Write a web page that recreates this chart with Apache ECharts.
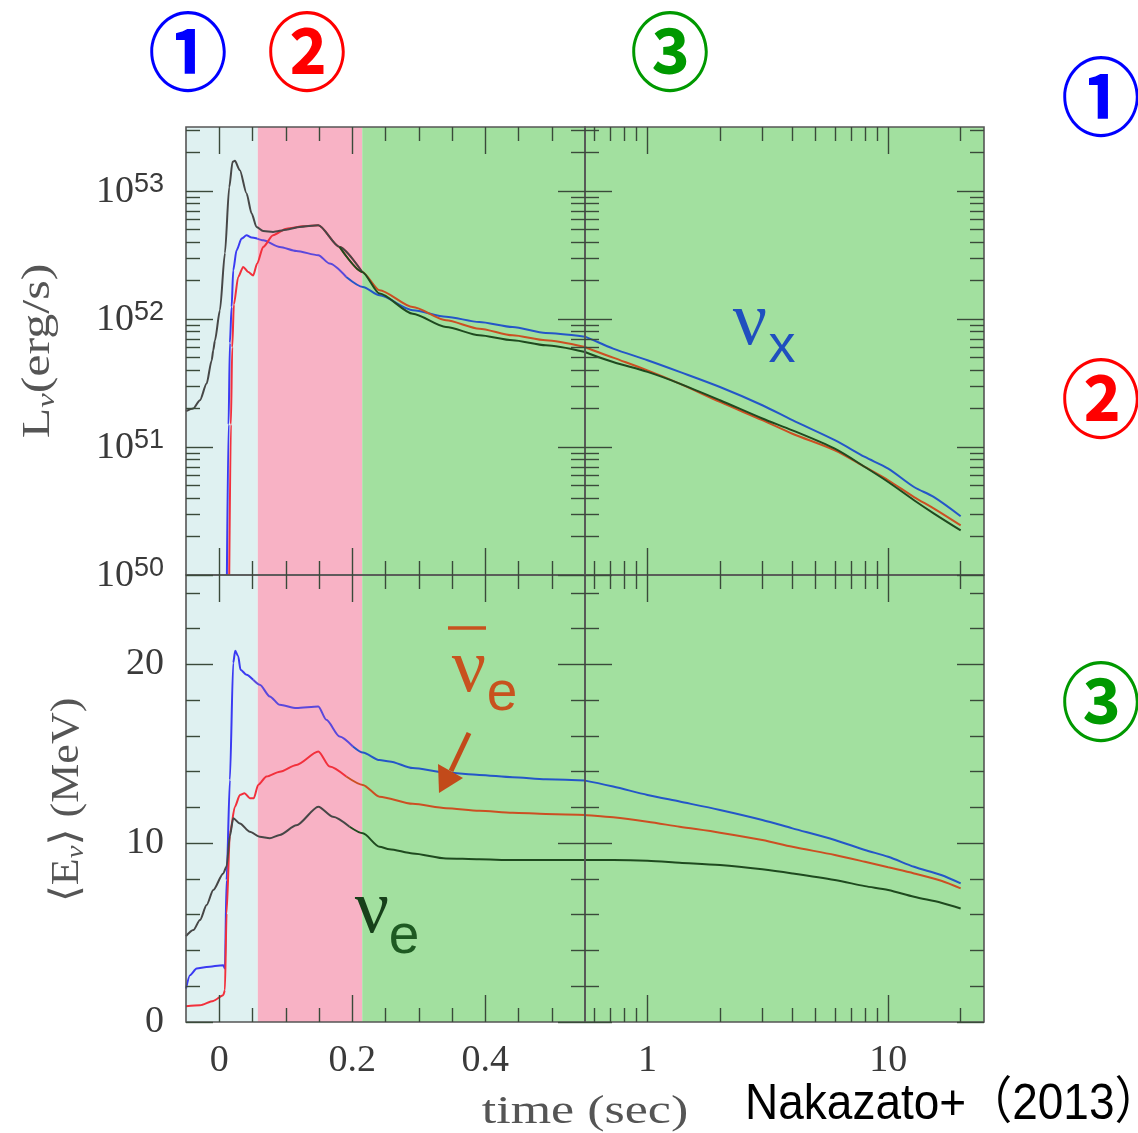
<!DOCTYPE html>
<html><head><meta charset="utf-8">
<script src="https://cdn.jsdelivr.net/npm/echarts@6/dist/echarts.min.js"></script>
<style>html,body{margin:0;padding:0;background:#fff}#c{width:1138px;height:1133px}</style>
</head><body><div id="c"></div>
<script>
// ---------------- data ----------------
// tick labels
const tickTimeEarly = [0, 0.2, 0.4];
const tickTimeLate = [1, 10];
const tickLum = [1e50, 1e51, 1e52, 1e53];
const tickEnergy = [0, 10, 20];
// phase boundaries (s): ① neutronization burst, ② accretion, ③ cooling
const phaseEdges = [-0.05, 0.058, 0.215, 0.55];
const timeRangeLate = [0.55, 25];

// Luminosity L (erg/s)
const tL_nue = [-0.05,-0.039,-0.029,-0.019,-0.0114,-0.009,-0.0065,0.001,0.0085,0.015,0.020,0.0235,0.031,0.041,0.0486,0.056,0.066,0.081,0.101,0.121,0.149,0.181,0.215,0.241,0.291,0.341,0.391,0.441,0.491,0.55,0.72,1,1.36,2,3,4,6,8,10,12.8,15.5,20];
const L_nue = [1.91e51,2.0e51,2.32e51,3.13e51,4.75e51,5.7e51,6.8e51,1.17e52,3.26e52,1.07e53,1.69e53,1.72e53,1.45e53,9.6e52,6.7e52,5.24e52,4.87e52,4.79e52,4.99e52,5.24e52,5.4e52,3.65e52,2.33e52,1.58e52,1.1e52,8.66e51,7.46e51,6.82e51,6.23e51,5.52e51,4.61e51,3.86e51,3.13e51,2.32e51,1.67e51,1.35e51,9.7e50,6.98e50,5.33e50,3.84e50,3.02e50,2.23e50];

const tL_nueb = [0.015,0.0175,0.0195,0.022,0.0285,0.036,0.0435,0.051,0.057,0.066,0.081,0.101,0.126,0.149,0.181,0.215,0.241,0.291,0.341,0.391,0.441,0.491,0.55,0.72,1,1.36,2,3,4,6,8,10,12.8,15.5,20];
const L_nueb = [1.0e50,1.5e51,6.0e51,1.3e52,2.13e52,2.55e52,2.33e52,2.19e52,2.71e52,3.65e52,4.51e52,5.08e52,5.3e52,5.4e52,3.65e52,2.33e52,1.68e52,1.24e52,9.78e51,8.41e51,7.46e51,6.82e51,6.04e51,4.99e51,3.97e51,3.13e51,2.25e51,1.62e51,1.27e51,9.43e50,6.98e50,5.5e50,4.06e50,3.3e50,2.44e50];

const tL_nux = [0.0115,0.014,0.016,0.0186,0.021,0.026,0.0336,0.041,0.0486,0.057,0.066,0.091,0.116,0.149,0.166,0.191,0.216,0.241,0.291,0.341,0.391,0.441,0.491,0.55,0.72,1,1.36,2,3,4,6,8,10,12.8,15.5,20];
const L_nux = [1.0e50,1.5e51,6.5e51,1.24e52,2.4e52,3.44e52,4.25e52,4.51e52,4.33e52,4.25e52,4.12e52,3.65e52,3.4e52,3.15e52,2.71e52,2.13e52,1.78e52,1.53e52,1.17e52,1.04e52,9.48e51,8.66e51,7.78e51,7.28e51,5.87e51,4.76e51,3.86e51,2.94e51,2.12e51,1.62e51,1.13e51,8.36e50,6.78e50,4.87e50,4.06e50,2.88e50];

// Mean energy <E> (MeV)
const tE_nue = [-0.05,-0.039,-0.029,-0.019,-0.009,0.006,0.011,0.016,0.021,0.031,0.046,0.061,0.076,0.091,0.116,0.149,0.171,0.196,0.216,0.241,0.256,0.291,0.341,0.391,0.441,0.491,0.55,0.72,1,1.36,2,3,4,6,8,10,12.8,16.6,20];
const E_nue = [4.8,5.14,5.7,6.54,7.38,8.31,8.7,10.4,11.4,11.1,10.64,10.36,10.27,10.46,11.0,12.04,11.48,10.92,10.55,9.8,9.66,9.43,9.15,9.1,9.06,9.06,9.06,9.06,9.02,8.91,8.78,8.54,8.31,7.94,7.6,7.38,7.0,6.67,6.35];

const tE_nueb = [-0.05,-0.029,-0.009,0.006,0.0085,0.011,0.016,0.0235,0.031,0.038,0.046,0.052,0.0585,0.071,0.091,0.116,0.149,0.166,0.191,0.216,0.241,0.291,0.341,0.391,0.441,0.491,0.55,0.72,1,1.36,2,3,4,6,8,10,12.8,16.6,20];
const E_nueb = [0.88,0.94,1.18,1.5,1.78,6.07,10.55,12.04,12.7,12.8,12.52,12.52,13.26,13.73,14.0,14.38,15.13,14.29,13.73,13.26,12.6,12.2,11.96,11.82,11.71,11.64,11.58,11.45,11.2,10.92,10.59,10.18,9.8,9.34,8.96,8.65,8.31,7.9,7.47];

const tE_nux = [-0.05,-0.044,-0.034,-0.019,0.006,0.0085,0.011,0.016,0.021,0.024,0.0285,0.032,0.041,0.051,0.061,0.076,0.091,0.116,0.149,0.161,0.181,0.201,0.216,0.241,0.256,0.291,0.341,0.391,0.441,0.491,0.55,0.72,1,1.36,2,3,4,6,8,10,12.8,16.6,20];
const E_nux = [1.87,2.62,2.99,3.08,3.18,2.99,7.94,13.54,20.08,20.77,20.45,19.7,19.42,19.14,18.86,18.21,17.74,17.56,17.65,16.9,15.97,15.41,15.07,14.65,14.57,14.2,13.95,13.82,13.69,13.58,13.5,13.17,12.7,12.33,11.86,11.3,10.83,10.18,9.62,9.24,8.68,8.22,7.75];

// ---------------- styling ----------------
const C_CYAN = '#dff1f1', C_PINK = '#f8b2c5', C_GREEN = '#a2e09f';
const tickColor = '#3a4a3a';
const serif = "'Liberation Serif','DejaVu Serif',serif";
const sans = "'Liberation Sans','DejaVu Sans',sans-serif";
const labelColor = '#3a3a3a';
const titleColor = '#555';

const grids = [
  {left:186, top:127, width:399, height:448},
  {left:585, top:127, width:399, height:448},
  {left:186, top:575, width:399, height:447},
  {left:585, top:575, width:399, height:447}
].map(g => Object.assign(g, {show:true, borderColor:'#555', borderWidth:1.6,
  backgroundColor:'transparent', z:10, containLabel:false, outerBoundsMode:'none'}));

const minorEarly = [0.05,0.1,0.15,0.25,0.3,0.35,0.45,0.5];
const minorLate = [0.6,0.7,0.8,0.9,2,3,4,5,6,7,8,9,20];
const minorLum = [];
[50,51,52].forEach(d => { for (let k=2;k<=9;k++) minorLum.push(k*Math.pow(10,d)); });
minorLum.push(2e53, 3e53);
const minorEnergy = [2,4,6,8,12,14,16,18,22,24];

const xAxes = [], yAxes = [];
function ax(type, grid, min, max, position, values, len, label) {
  const a = {type, gridIndex:grid, min, max, position, z:10, silent:true,
    axisLine:{show:false, onZero:false}, splitLine:{show:false},
    axisTick:{show:true, inside:true, length:len, customValues:values,
      lineStyle:{color:tickColor, width:1.4}},
    axisLabel: label ? Object.assign({show:true}, label) : {show:false},
    axisPointer:{show:false}};
  if (type === 'log') a.logBase = 10;
  return a;
}
const xSpec = [
  {type:'value', min:phaseEdges[0], max:phaseEdges[3], major:tickTimeEarly, minor:minorEarly},
  {type:'log', min:timeRangeLate[0], max:timeRangeLate[1], major:tickTimeLate, minor:minorLate},
  {type:'value', min:phaseEdges[0], max:phaseEdges[3], major:tickTimeEarly, minor:minorEarly},
  {type:'log', min:timeRangeLate[0], max:timeRangeLate[1], major:tickTimeLate, minor:minorLate}
];
const ySpec = [
  {type:'log', min:1e50, max:Math.pow(10,53.5), major:tickLum, minor:minorLum},
  {type:'log', min:1e50, max:Math.pow(10,53.5), major:tickLum, minor:minorLum},
  {type:'value', min:0, max:25, major:tickEnergy, minor:minorEnergy},
  {type:'value', min:0, max:25, major:tickEnergy, minor:minorEnergy}
];
const numLabel = {fontSize:38, fontFamily:serif, color:labelColor};
const xLabels = [null, null,
  Object.assign({customValues:tickTimeEarly, margin:20, formatter:v => String(+(+v).toFixed(2))}, numLabel),
  Object.assign({customValues:tickTimeLate, margin:20, formatter:v => String(Math.round(v))}, numLabel)];
const yLabels = [
  {customValues:tickLum, margin:22,
   formatter:v => '{b|10}{s|' + Math.round(Math.log10(v)) + '}',
   rich:{b:{fontSize:38, fontFamily:serif, color:labelColor, lineHeight:40, verticalAlign:'bottom'},
         s:{fontSize:27, fontFamily:sans, color:labelColor, lineHeight:30, verticalAlign:'top'}}},
  null,
  Object.assign({customValues:tickEnergy, margin:22, formatter:v => String(v)}, numLabel),
  null];
const mainX = [], mainY = [];
for (let g=0; g<4; g++) {
  const xs = xSpec[g], ys = ySpec[g];
  mainX.push(xAxes.length);
  xAxes.push(ax(xs.type,g,xs.min,xs.max,'bottom',xs.major,27,xLabels[g]));
  xAxes.push(ax(xs.type,g,xs.min,xs.max,'bottom',xs.minor,14,null));
  xAxes.push(ax(xs.type,g,xs.min,xs.max,'top',xs.major,27,null));
  xAxes.push(ax(xs.type,g,xs.min,xs.max,'top',xs.minor,14,null));
  mainY.push(yAxes.length);
  yAxes.push(ax(ys.type,g,ys.min,ys.max,'left',ys.major,27,yLabels[g]));
  yAxes.push(ax(ys.type,g,ys.min,ys.max,'left',ys.minor,14,null));
  yAxes.push(ax(ys.type,g,ys.min,ys.max,'right',ys.major,27,null));
  yAxes.push(ax(ys.type,g,ys.min,ys.max,'right',ys.minor,14,null));
}

// ---------------- series ----------------
const series = [];
// phase backgrounds
for (let g=0; g<4; g++) {
  const early = (g % 2 === 0);
  const areas = early ? [
    [{xAxis:phaseEdges[0], itemStyle:{color:C_CYAN}}, {xAxis:phaseEdges[1]}],
    [{xAxis:phaseEdges[1], itemStyle:{color:C_PINK}}, {xAxis:phaseEdges[2]}],
    [{xAxis:phaseEdges[2], itemStyle:{color:C_GREEN}}, {xAxis:phaseEdges[3]}]
  ] : [[{xAxis:timeRangeLate[0], itemStyle:{color:C_GREEN}}, {xAxis:timeRangeLate[1]}]];
  series.push({type:'line', xAxisIndex:mainX[g], yAxisIndex:mainY[g], z:1, silent:true,
    data:[[early ? 0.1 : 1, g < 2 ? 1e51 : 5]], symbol:'none', lineStyle:{width:0},
    markArea:{silent:true, z:1, data:areas}});
}
// split a curve into pieces by time, sharing the boundary point so the line stays continuous
function part(ts, vs, lo, hi) {
  const out = [];
  for (let i=0; i<ts.length; i++) {
    const inside = ts[i] >= lo && ts[i] <= hi;
    const nextIn = i+1 < ts.length && ts[i+1] >= lo && ts[i+1] <= hi;
    if (inside || (nextIn && ts[i] < lo)) out.push([ts[i], vs[i]]);
  }
  return out;
}
const species = [
  {key:'nux', tL:tL_nux, L:L_nux, tE:tE_nux, E:E_nux,
   segs:[[-1, 0.058, '#3a3af2'], [0.058, 0.215, '#5a48dc'], [0.215, 0.55, '#2456c8']], late:'#2456c8'},
  {key:'nueb', tL:tL_nueb, L:L_nueb, tE:tE_nueb, E:E_nueb,
   segs:[[-1, 0.215, '#f2303c'], [0.215, 0.55, '#cc4f22']], late:'#cc4f22'},
  {key:'nue', tL:tL_nue, L:L_nue, tE:tE_nue, E:E_nue,
   segs:[[-1, 0.215, '#474747'], [0.215, 0.55, '#1f4a1f']], late:'#1f4a1f'}
];
species.forEach(sp => {
  [[0, sp.tL, sp.L], [2, sp.tE, sp.E]].forEach(([g, ts, vs]) => {
    sp.segs.forEach(([lo, hi, col]) => {
      series.push({type:'line', name:sp.key, xAxisIndex:mainX[g], yAxisIndex:mainY[g], z:3,
        data:part(ts, vs, lo, hi), symbol:'none', smooth:0.25, smoothMonotone:'x', clip:true,
        lineStyle:{width:2, color:col}, itemStyle:{color:col}});
    });
    series.push({type:'line', name:sp.key, xAxisIndex:mainX[g+1], yAxisIndex:mainY[g+1], z:3,
      data:part(ts, vs, 0.55, 100), symbol:'none', smooth:0.3, clip:true,
      lineStyle:{width:2, color:sp.late}, itemStyle:{color:sp.late}});
  });
});

// ---------------- annotations ----------------
const graphic = [];
function txt(x, y, text, style, extra) {
  graphic.push(Object.assign({type:'text', x, y, z:100, silent:true,
    style:Object.assign({text, align:'center', verticalAlign:'middle'}, style)}, extra || {}));
}
const circ = {fontFamily:"'Noto Sans CJK JP','Noto Sans CJK SC',sans-serif", fontSize:80, fontWeight:'bold'};
txt(188, 52, '①', Object.assign({fill:'#0000ff'}, circ), {scaleY:1.06});
txt(307, 52, '②', Object.assign({fill:'#ff0000'}, circ), {scaleY:1.06});
txt(670, 52, '③', Object.assign({fill:'#009900'}, circ), {scaleY:1.06});
txt(1101, 97, '①', Object.assign({fill:'#0000ff'}, circ), {scaleY:1.06});
txt(1101, 399, '②', Object.assign({fill:'#ff0000'}, circ), {scaleY:1.06});
txt(1101, 702, '③', Object.assign({fill:'#009900'}, circ), {scaleY:1.06});

// axis titles
txt(38, 351, '{a|L}{s|ν}{a|(erg/s)}', {rich:{
  a:{fontSize:40, fontFamily:serif, fill:titleColor, lineHeight:44},
  s:{fontSize:26, fontFamily:serif, fill:titleColor, fontStyle:'italic', lineHeight:26, verticalAlign:'bottom'}}},
  {rotation:Math.PI/2, scaleX:1.25});
txt(67, 800, '{a|⟨E}{s|ν}{a|⟩ (MeV)}', {rich:{
  a:{fontSize:40, fontFamily:serif, fill:titleColor, lineHeight:44},
  s:{fontSize:26, fontFamily:serif, fill:titleColor, fontStyle:'italic', lineHeight:26, verticalAlign:'bottom'}}},
  {rotation:Math.PI/2, scaleX:1.1});
txt(585, 1112, 'time (sec)', {fontSize:40, fontFamily:serif, fill:titleColor}, {scaleX:1.3});
graphic.push({type:'text', x:745, y:1105, z:100, silent:true, scaleY:1.1,
  style:{text:'Nakazato+（2013）', fontSize:46, fontFamily:"'Liberation Sans','Noto Sans CJK JP',sans-serif",
    fill:'#000', align:'left', verticalAlign:'middle'}});

// species labels
txt(750, 324, 'ν', {fontSize:76, fontFamily:serif, fill:'#1f4fbf'});
txt(782, 347, 'x', {fontSize:54, fontFamily:sans, fill:'#1f4fbf'});
txt(469, 671, 'ν', {fontSize:76, fontFamily:serif, fill:'#c8521e'});
txt(502, 695, 'e', {fontSize:55, fontFamily:sans, fill:'#c8521e'});
graphic.push({type:'line', z:100, silent:true, shape:{x1:448, y1:628, x2:486, y2:628},
  style:{stroke:'#c8521e', lineWidth:3.5}});
graphic.push({type:'line', z:100, silent:true, shape:{x1:469, y1:733, x2:451, y2:771},
  style:{stroke:'#c24a1a', lineWidth:5}});
graphic.push({type:'polygon', z:100, silent:true, shape:{points:[[439,793],[438,764],[463,778]]},
  style:{fill:'#c24a1a'}});
txt(372, 912, 'ν', {fontSize:76, fontFamily:serif, fill:'#17401a'});
txt(404, 938, 'e', {fontSize:55, fontFamily:sans, fill:'#1e5a22'});

const chart = echarts.init(document.getElementById('c'), null, {renderer:'canvas'});
chart.setOption({
  animation:false,
  backgroundColor:'#ffffff',
  grid:grids,
  xAxis:xAxes,
  yAxis:yAxes,
  series:series,
  graphic:graphic
});
</script></body></html>
